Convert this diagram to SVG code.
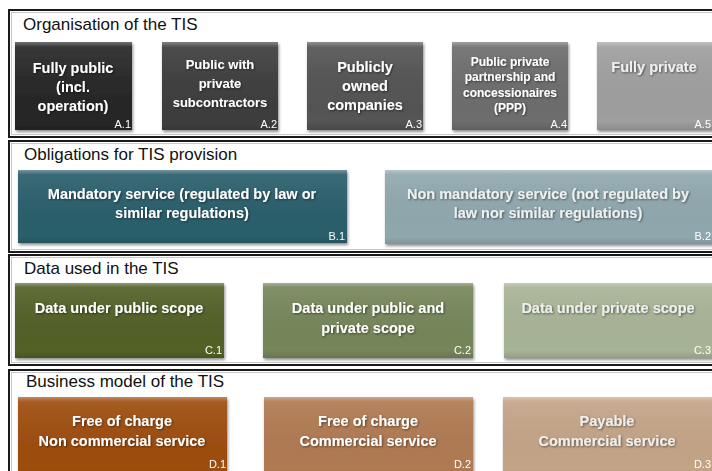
<svg xmlns="http://www.w3.org/2000/svg" width="712" height="471" viewBox="0 0 712 471">
<defs>
<filter id="sh" x="-5%" y="-5%" width="112%" height="115%">
<feGaussianBlur in="SourceAlpha" stdDeviation="1.5"/>
<feOffset dx="1" dy="1.5" result="b"/>
<feComponentTransfer><feFuncA type="linear" slope="0.45"/></feComponentTransfer>
<feMerge><feMergeNode/><feMergeNode in="SourceGraphic"/></feMerge>
</filter>
<filter id="ts" x="-5%" y="-20%" width="110%" height="140%">
<feGaussianBlur in="SourceAlpha" stdDeviation="0.8"/>
<feOffset dx="0.8" dy="1" result="b"/>
<feComponentTransfer><feFuncA type="linear" slope="0.5"/></feComponentTransfer>
<feMerge><feMergeNode/><feMergeNode in="SourceGraphic"/></feMerge>
</filter>
<linearGradient id="bev" x1="0" y1="0" x2="0" y2="1">
<stop offset="0" stop-color="#fff" stop-opacity="0.35"/>
<stop offset="0.06" stop-color="#fff" stop-opacity="0.08"/>
<stop offset="0.9" stop-color="#000" stop-opacity="0"/>
<stop offset="1" stop-color="#000" stop-opacity="0.12"/>
</linearGradient>
</defs>
<style>
.panel{fill:#fff;stroke:#1a1a1a;stroke-width:2}
.pin{fill:none;stroke:#bbb;stroke-width:0.8}
.head{font-family:"Liberation Sans",Arial,sans-serif;font-size:17px;fill:#111}
.t{font-family:"Liberation Sans",Arial,sans-serif;font-weight:bold;fill:#fff;text-anchor:middle}
.lab{font-family:"Liberation Sans",Arial,sans-serif;font-size:11px;fill:#fff;text-anchor:end}
.lt{fill:#eef0f0}
</style>
<rect width="712" height="471" fill="#fff"/>
<g id="panels">
<rect class="panel" x="9" y="10" width="712" height="127"/>
<rect class="pin" x="11.5" y="12.5" width="712" height="122"/>
<rect class="panel" x="9" y="141" width="712" height="111"/>
<rect class="pin" x="11.5" y="143.5" width="712" height="106"/>
<rect class="panel" x="9" y="255" width="712" height="110"/>
<rect class="pin" x="11.5" y="257.5" width="712" height="105"/>
<rect class="panel" x="9" y="370" width="712" height="110"/>
<rect class="pin" x="11.5" y="372.5" width="712" height="110"/>
<text class="head" x="23" y="30">Organisation of the TIS</text>
<text class="head" x="24" y="160">Obligations for TIS provision</text>
<text class="head" x="24" y="274">Data used in the TIS</text>
<text class="head" x="26" y="387">Business model of the TIS</text>
</g>
<g id="A1" filter="url(#sh)">
<rect x="15" y="42" width="117" height="88" fill="#272727"/>
<rect x="15" y="42" width="117" height="88" fill="url(#bev)"/>
<g filter="url(#ts)"><text class="t" font-size="14.5" x="73" y="73">Fully public</text>
<text class="t" font-size="14.5" x="73" y="92">(incl.</text>
<text class="t" font-size="14.5" x="73" y="111">operation)</text></g>
<text class="lab" x="131" y="128">A.1</text>
</g>
<g id="A2" filter="url(#sh)">
<rect x="162" y="42" width="116" height="88" fill="#3e3e3e"/>
<rect x="162" y="42" width="116" height="88" fill="url(#bev)"/>
<g filter="url(#ts)"><text class="t" font-size="13" x="220" y="69">Public with</text>
<text class="t" font-size="13" x="220" y="88">private</text>
<text class="t" font-size="13" x="220" y="107">subcontractors</text></g>
<text class="lab" x="277" y="128">A.2</text>
</g>
<g id="A3" filter="url(#sh)">
<rect x="307" y="42" width="116" height="88" fill="#545454"/>
<rect x="307" y="42" width="116" height="88" fill="url(#bev)"/>
<g filter="url(#ts)"><text class="t" font-size="14.5" x="365" y="72">Publicly</text>
<text class="t" font-size="14.5" x="365" y="91">owned</text>
<text class="t" font-size="14.5" x="365" y="110">companies</text></g>
<text class="lab" x="422" y="128">A.3</text>
</g>
<g id="A4" filter="url(#sh)">
<rect x="452" y="42" width="116" height="88" fill="#6d6d6d"/>
<rect x="452" y="42" width="116" height="88" fill="url(#bev)"/>
<g filter="url(#ts)"><text class="t" font-size="12" x="510" y="66">Public private</text>
<text class="t" font-size="12" x="510" y="81">partnership and</text>
<text class="t" font-size="12" x="510" y="97">concessionaires</text>
<text class="t" font-size="12" x="510" y="112">(PPP)</text></g>
<text class="lab" x="567" y="128">A.4</text>
</g>
<g id="A5" filter="url(#sh)">
<rect x="597" y="42" width="120" height="88" fill="#9f9f9f"/>
<rect x="597" y="42" width="120" height="88" fill="url(#bev)"/>
<g filter="url(#ts)"><text class="t lt" font-size="14.5" x="654" y="72">Fully private</text></g>
<text class="lab" x="711" y="128">A.5</text>
</g>
<g id="B1" filter="url(#sh)">
<rect x="18" y="170" width="329" height="73" fill="#2a5f6c"/>
<rect x="18" y="170" width="329" height="73" fill="url(#bev)"/>
<g filter="url(#ts)"><text class="t" font-size="14.5" x="182" y="199">Mandatory service (regulated by law or</text>
<text class="t" font-size="14.5" x="182" y="218">similar regulations)</text></g>
<text class="lab" x="345" y="240">B.1</text>
</g>
<g id="B2" filter="url(#sh)">
<rect x="385" y="170" width="335" height="74" fill="#8fa8ae"/>
<rect x="385" y="170" width="335" height="74" fill="url(#bev)"/>
<g filter="url(#ts)"><text class="t lt" font-size="14.5" x="548" y="199">Non mandatory service (not regulated by</text>
<text class="t lt" font-size="14.5" x="548" y="218">law nor similar regulations)</text></g>
<text class="lab" x="711" y="240">B.2</text>
</g>
<g id="C1" filter="url(#sh)">
<rect x="15" y="283" width="209" height="75" fill="#526128"/>
<rect x="15" y="283" width="209" height="75" fill="url(#bev)"/>
<g filter="url(#ts)"><text class="t" font-size="14.5" x="119" y="313">Data under public scope</text></g>
<text class="lab" x="222" y="354">C.1</text>
</g>
<g id="C2" filter="url(#sh)">
<rect x="263" y="283" width="210" height="75" fill="#76865a"/>
<rect x="263" y="283" width="210" height="75" fill="url(#bev)"/>
<g filter="url(#ts)"><text class="t" font-size="14.5" x="368" y="313">Data under public and</text>
<text class="t" font-size="14.5" x="368" y="333">private scope</text></g>
<text class="lab" x="471" y="354">C.2</text>
</g>
<g id="C3" filter="url(#sh)">
<rect x="504" y="283" width="215" height="75" fill="#a8b496"/>
<rect x="504" y="283" width="215" height="75" fill="url(#bev)"/>
<g filter="url(#ts)"><text class="t lt" font-size="14.5" x="608" y="313">Data under private scope</text></g>
<text class="lab" x="711" y="354">C.3</text>
</g>
<g id="D1" filter="url(#sh)">
<rect x="18" y="397" width="209" height="80" fill="#9e4d0f"/>
<rect x="18" y="397" width="209" height="80" fill="url(#bev)"/>
<g filter="url(#ts)"><text class="t" font-size="14.5" x="122" y="426">Free of charge</text>
<text class="t" font-size="14.5" x="122" y="446">Non commercial service</text></g>
<text class="lab" x="226" y="468">D.1</text>
</g>
<g id="D2" filter="url(#sh)">
<rect x="264" y="397" width="209" height="80" fill="#b07a52"/>
<rect x="264" y="397" width="209" height="80" fill="url(#bev)"/>
<g filter="url(#ts)"><text class="t" font-size="14.5" x="368" y="426">Free of charge</text>
<text class="t" font-size="14.5" x="368" y="446">Commercial service</text></g>
<text class="lab" x="471" y="468">D.2</text>
</g>
<g id="D3" filter="url(#sh)">
<rect x="503" y="397" width="216" height="80" fill="#c4a487"/>
<rect x="503" y="397" width="216" height="80" fill="url(#bev)"/>
<g filter="url(#ts)"><text class="t lt" font-size="14.5" x="607" y="426">Payable</text>
<text class="t lt" font-size="14.5" x="607" y="446">Commercial service</text></g>
<text class="lab" x="711" y="468">D.3</text>
</g>
<g id="connectors"/>
</svg>
